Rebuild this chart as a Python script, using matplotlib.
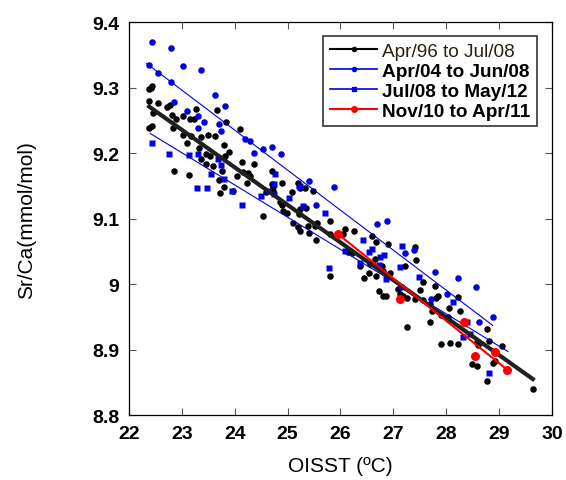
import matplotlib
matplotlib.use("Agg")
import matplotlib.pyplot as plt
from matplotlib.lines import Line2D

plt.rcParams['font.family'] = ['Liberation Sans', 'DejaVu Sans']

# Apr/96 to Jul/08 (black dots)
blk_x = [22.41, 22.43, 22.38, 22.38, 22.54, 22.46, 22.38, 22.43, 22.71, 22.78,
         22.81, 22.89, 23.02, 23.15, 23.23, 23.27, 22.84, 23.03, 23.17, 23.09,
         23.36, 23.50, 23.63, 23.66, 23.83, 24.10, 23.32, 23.46, 23.53, 23.37,
         23.46, 23.59, 23.80, 23.89, 23.82, 22.85, 23.14, 23.75, 23.71, 23.80,
         23.73, 24.04, 24.13, 24.16, 24.26, 24.23, 24.36, 24.70, 24.89, 25.08,
         25.20, 24.60, 23.97, 24.54, 24.73, 24.89, 24.92, 24.29, 24.70, 24.73,
         25.23, 25.33, 25.49, 24.86, 24.98, 25.23, 25.35, 25.22, 25.11, 25.20,
         25.23, 25.39, 25.41, 25.52, 25.55, 25.54, 25.80, 25.80, 26.09, 26.05,
         26.26, 26.59, 26.68, 26.90, 26.15, 26.21, 26.56, 26.65, 26.78, 26.80,
         26.37, 26.54, 26.44, 26.68, 25.80, 26.94, 27.42, 27.43, 27.57, 27.79,
         27.85, 26.72, 26.81, 26.87, 27.09, 27.13, 27.19, 27.22, 27.50, 27.26,
         27.41, 27.57, 27.81, 28.23, 27.69, 27.74, 27.91, 28.04, 28.06, 28.26,
         27.69, 27.25, 28.78, 28.81, 28.58, 28.61, 27.91, 28.07, 28.23, 29.05,
         28.92, 28.88, 28.48, 28.58, 28.77, 29.64]
blk_y = [9.300, 9.303, 9.298, 9.280, 9.276, 9.261, 9.239, 9.242, 9.271, 9.273,
         9.258, 9.252, 9.256, 9.252, 9.252, 9.267, 9.239, 9.227, 9.226, 9.215,
         9.225, 9.228, 9.226, 9.266, 9.248, 9.237, 9.208, 9.198, 9.195, 9.191,
         9.183, 9.181, 9.212, 9.201, 9.195, 9.173, 9.166, 9.172, 9.159, 9.148,
         9.139, 9.165, 9.186, 9.171, 9.169, 9.154, 9.184, 9.173, 9.155, 9.141,
         9.155, 9.140, 9.142, 9.104, 9.148, 9.120, 9.112, 9.165, 9.153, 9.142,
         9.146, 9.146, 9.142, 9.125, 9.109, 9.115, 9.116, 9.107, 9.094, 9.087,
         9.081, 9.088, 9.078, 9.088, 9.093, 9.068, 9.096, 9.076, 9.084, 9.077,
         9.081, 9.074, 9.065, 9.061, 9.049, 9.047, 9.031, 9.038, 9.028, 9.020,
         9.028, 9.017, 9.009, 9.012, 9.012, 9.017, 9.056, 9.036, 9.003, 8.997,
         8.982, 8.990, 8.982, 8.982, 8.992, 8.985, 8.982, 9.027, 8.991, 8.978,
         8.977, 8.976, 8.978, 8.981, 8.969, 8.959, 8.953, 8.949, 8.963, 8.959,
         8.942, 8.934, 8.932, 8.913, 8.912, 8.907, 8.908, 8.910, 8.909, 8.905,
         8.883, 8.879, 8.878, 8.875, 8.852, 8.840]

# Apr/04 to Jun/08 (blue dots)
b1_x = [22.43, 22.79, 23.03, 23.36, 22.38, 22.54, 22.80, 22.85, 23.10, 23.30,
        23.41, 23.30, 23.63, 23.81, 23.70, 23.74, 24.20, 24.28, 24.36, 24.54,
        24.70, 24.87, 25.22, 25.41, 25.88, 25.54, 26.70, 26.89, 27.79, 28.01,
        27.39, 27.22, 28.23, 28.56, 28.63, 28.88, 27.71]
b1_y = [9.369, 9.360, 9.333, 9.327, 9.335, 9.323, 9.309, 9.278, 9.264, 9.257,
        9.248, 9.238, 9.289, 9.272, 9.245, 9.233, 9.222, 9.219, 9.200, 9.206,
        9.210, 9.198, 9.148, 9.157, 9.148, 9.120, 9.092, 9.097, 9.018, 8.985,
        9.052, 9.047, 9.010, 8.996, 8.942, 8.949, 8.977]

# Jul/08 to May/12 (blue squares)
b2_x = [22.43, 22.76, 23.14, 23.30, 23.69, 23.74, 23.55, 23.80, 23.29, 23.48,
        23.95, 24.13, 24.50, 24.76, 24.74, 24.74, 24.62, 25.02, 25.29, 25.71,
        26.43, 26.54, 26.59, 26.75, 26.82, 27.16, 26.37, 26.72, 25.78, 26.86,
        27.13, 27.49, 26.09, 25.23, 27.14, 28.13, 28.40, 28.32, 28.45, 28.81]
b2_y = [9.215, 9.198, 9.197, 9.198, 9.191, 9.182, 9.168, 9.160, 9.146, 9.146,
        9.142, 9.121, 9.134, 9.168, 9.153, 9.137, 9.142, 9.132, 9.119, 9.108,
        9.068, 9.049, 9.053, 9.042, 9.044, 9.058, 9.032, 9.029, 9.024, 9.008,
        9.026, 9.011, 9.051, 9.149, 8.995, 8.973, 8.942, 8.919, 8.924, 8.864]

# Nov/10 to Apr/11 (red dots)
red_x = [25.96, 27.12, 28.34, 28.55, 28.92, 29.16]
red_y = [9.076, 8.977, 8.942, 8.890, 8.897, 8.869]

# regression line end points
fit_blk_x = [22.38, 29.64]
fit_blk_y = [9.271, 8.855]
fit_b1_x = [22.33, 28.88]
fit_b1_y = [9.337, 8.937]
fit_b2_x = [22.40, 29.17]
fit_b2_y = [9.230, 8.897]
fit_red_x = [25.96, 29.16]
fit_red_y = [9.076, 8.869]

labels = ['Apr/96 to Jul/08', 'Apr/04 to Jun/08', 'Jul/08 to May/12', 'Nov/10 to Apr/11']
xticks = [22, 23, 24, 25, 26, 27, 28, 29, 30]
yticks = [8.8, 8.9, 9.0, 9.1, 9.2, 9.3, 9.4]

fig = plt.figure(figsize=(5.66, 4.81), dpi=100)
ax = fig.add_axes([0.228, 0.135, 0.747, 0.817])

ax.plot(blk_x, blk_y, 'o', color='black', ms=4.7, mec='none', zorder=3)
ax.plot(b1_x, b1_y, 'o', color='#0000e0', ms=4.7, mec='none', zorder=3)
ax.plot(b2_x, b2_y, 's', color='#0000e0', ms=4.4, mec='none', zorder=3)
ax.plot(fit_b1_x, fit_b1_y, '-', color='#0000e0', lw=0.8, zorder=4)
ax.plot(fit_b2_x, fit_b2_y, '-', color='#0000e0', lw=0.8, zorder=4)
ax.plot(fit_blk_x, fit_blk_y, '-', color='#202020', lw=3, zorder=4)
ax.plot(fit_red_x, fit_red_y, '-', color='red', lw=1.5, zorder=5)
ax.plot(red_x, red_y, 'o', color='red', ms=6.5, mec='none', zorder=6)

ax.set_xlim(22, 30)
ax.set_ylim(8.8, 9.4)
ax.set_xticks(xticks)
ax.set_xticklabels([str(t) for t in xticks], fontweight='bold')
ax.set_yticks(yticks)
ax.set_yticklabels(['%g' % t for t in yticks], fontweight='bold')
ax.tick_params(direction='in', top=True, right=True, length=5, width=0.8,
               labelsize=14, pad=7, color='#555555')
for s in ax.spines.values():
    s.set_linewidth(0.9)

ax.set_xlabel('OISST (ºC)', fontsize=15, labelpad=10)
ax.set_ylabel('Sr/Ca(mmol/mol)', fontsize=15, labelpad=40)

handles = [
    Line2D([], [], color='black', marker='o', ms=3, lw=1.5),
    Line2D([], [], color='#0000e0', marker='o', ms=3, lw=1.2),
    Line2D([], [], color='#0000e0', marker='s', ms=3, lw=1.2),
    Line2D([], [], color='red', marker='o', ms=4, lw=1.5),
]
leg = ax.legend(handles, labels, loc='upper right', bbox_to_anchor=(0.965, 0.965),
                fontsize=13.7, frameon=True, fancybox=False, edgecolor='black',
                handlelength=2.5, handletextpad=0.25, labelspacing=0.14,
                borderpad=0.35, borderaxespad=0)
leg.get_frame().set_linewidth(1.2)
for i, t in enumerate(leg.get_texts()):
    if i == 0:
        t.set_color('#2a2010')
    else:
        t.set_fontweight('bold')

fig.savefig('out.png', dpi=100)
